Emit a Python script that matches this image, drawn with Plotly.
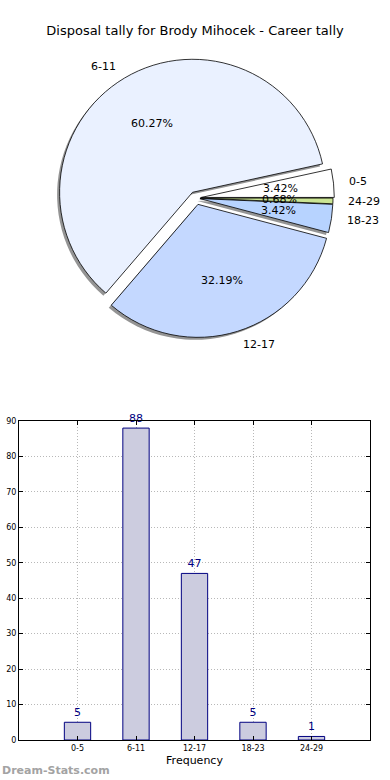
import math
import plotly.graph_objects as go

# ---- data ----
categories = ["0-5", "6-11", "12-17", "18-23", "24-29"]
counts = [5, 88, 47, 5, 1]
pie_colors = ["#ffffff", "#eaf1ff", "#c4d8ff", "#b7d3ff", "#cbe594"]
pulls = [0.04, 0.05, 0.05, 0.03, 0.03]
chart_title = "Disposal tally for Brody Mihocek - Career tally"
x_title = "Frequency"
watermark = "Dream-Stats.com"

W, H = 390, 780
FONT = "DejaVu Sans"

# pie geometry (pixels)
cx, cy, r = 196, 198, 133
maxpull = max(pulls)
half = r * (1 + maxpull)
dom_x = [(cx - half) / W, (cx + half) / W]
dom_y = [1 - (cy + half) / H, 1 - (cy - half) / H]
sh = 2.5
total = sum(counts)
# first slice begins at 3 o'clock and runs counterclockwise
rot = 90 - 360 * counts[0] / total

fig = go.Figure()

# shadow
fig.add_trace(go.Pie(
    labels=categories, values=counts, sort=False, direction="counterclockwise",
    rotation=rot, pull=pulls,
    marker=dict(colors=["rgba(0,0,0,0.42)"] * len(counts), line=dict(width=0)),
    textinfo="none", hoverinfo="skip", showlegend=False,
    domain=dict(x=[dom_x[0] - sh / W, dom_x[1] - sh / W],
                y=[dom_y[0] - sh / H, dom_y[1] - sh / H]),
))
# main pie
fig.add_trace(go.Pie(
    labels=categories, values=counts, sort=False, direction="counterclockwise",
    rotation=rot, pull=pulls,
    marker=dict(colors=pie_colors, line=dict(color="#000000", width=0.8)),
    textinfo="none", showlegend=False,
    domain=dict(x=dom_x, y=dom_y),
))

annotations = []
cum = 0
for lab, v, p in zip(categories, counts, pulls):
    mid = math.radians((cum + v / 2) / total * 360)
    cum += v
    c, s = math.cos(mid), math.sin(mid)
    px = cx + (p + 0.6) * r * c
    py = cy - (p + 0.6) * r * s
    annotations.append(dict(x=px / W, y=1 - py / H, xref="paper", yref="paper",
                            text=f"{v / total * 100:.2f}%", showarrow=False,
                            xanchor="center", yanchor="middle",
                            font=dict(family=FONT, size=11, color="#000")))
    lx = cx + (p + 1.1) * r * c
    ly = cy - (p + 1.1) * r * s
    annotations.append(dict(x=lx / W, y=1 - ly / H, xref="paper", yref="paper",
                            text=lab, showarrow=False,
                            xanchor="left" if c > 0 else "right", yanchor="middle",
                            font=dict(family=FONT, size=11, color="#000")))

# bar chart
fig.add_trace(go.Bar(
    x=categories, y=counts, width=0.45,
    marker=dict(color="#ccccdf", line=dict(color="#000080", width=1)),
    text=counts, textposition="outside", cliponaxis=False,
    textfont=dict(family=FONT, size=11, color="#000080"),
    showlegend=False, xaxis="x", yaxis="y",
))

annotations.append(dict(x=0, y=1 - 770 / H, xref="paper", yref="paper",
                        text=f"<b>{watermark}</b>", showarrow=False,
                        xanchor="left", yanchor="middle",
                        font=dict(family=FONT, size=11, color="#a3a3a3")))

axis_common = dict(
    showline=True, linecolor="#000", linewidth=1, mirror="ticks",
    ticks="inside", ticklen=4, tickcolor="#000",
    showgrid=True, gridcolor="#b8b8b8", griddash="1px,2px", gridwidth=1,
    tickfont=dict(family=FONT, size=8, color="#000"),
    zeroline=False, fixedrange=True, automargin=False,
)

fig.update_layout(
    width=W, height=H,
    margin=dict(l=0, r=0, t=0, b=0, autoexpand=False),
    paper_bgcolor="white", plot_bgcolor="white",
    font=dict(family=FONT, color="#000"),
    title=dict(text=chart_title, x=0.5, xref="container", xanchor="center",
               y=1 - 30 / H, yanchor="middle",
               font=dict(family=FONT, size=13, color="#000")),
    annotations=annotations,
    xaxis=dict(domain=[19 / W, 370 / W], range=[-1, 5], type="category",
               title=dict(text=x_title, font=dict(family=FONT, size=11, color="#000"), standoff=4),
               **axis_common),
    yaxis=dict(domain=[40 / H, 359 / H], range=[0, 90], dtick=10, **axis_common),
)

fig.write_html("out.html", config={"displayModeBar": False},
               post_script="document.body.style.margin='0';")
